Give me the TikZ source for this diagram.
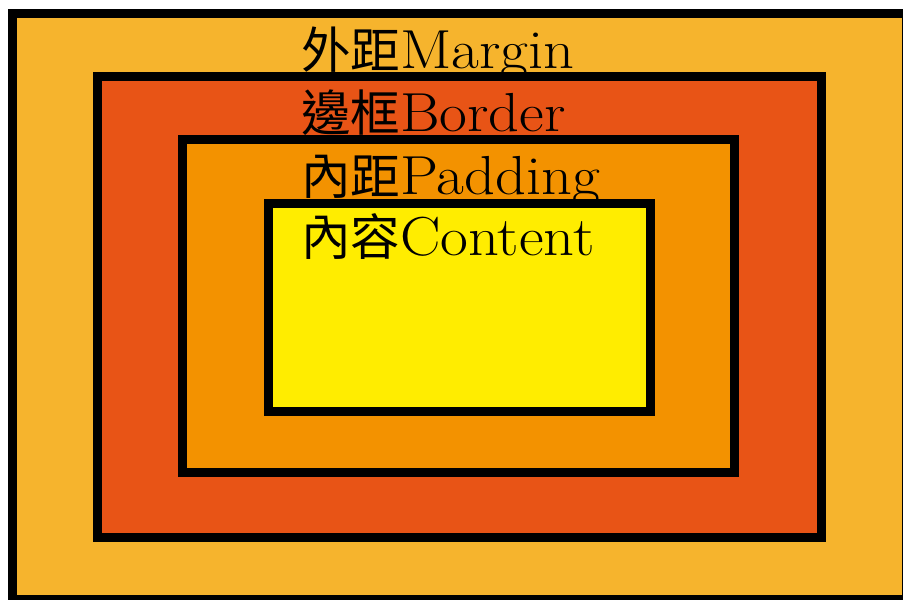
\documentclass[tikz,border=0pt]{standalone}
\usepackage{fontspec}
\setmainfont[FakeStretch=1.1]{Latin Modern Roman}
\newfontfamily\cjk[Scale=0.9]{Noto Sans CJK TC}
\usepackage{tikz}
\usetikzlibrary{positioning}
\usepackage{xcolor}

\definecolor{margincol}{RGB}{246,180,45}
\definecolor{bordercol}{RGB}{232,84,22}
\definecolor{paddingcol}{RGB}{243,146,0}
\definecolor{contentcol}{RGB}{255,237,0}

\begin{document}
\begin{tikzpicture}[x=1pt,y=-1pt]
  \tikzstyle{layer}=[draw=black,line width=9pt]
  \tikzstyle{tag}=[anchor=base west,inner sep=0pt,font=\fontsize{55}{60}\selectfont]

  \useasboundingbox (0,0) rectangle (903,600);
  \fill[white] (0,0) rectangle (903,600);

  % nested boxes, outside in
  \draw[layer,fill=margincol]  (12.5,13.5) rectangle (906.5,599.5);
  \draw[layer,fill=bordercol]  (97.5,76.5) rectangle (821,537.5);
  \draw[layer,fill=paddingcol] (182.5,139) rectangle (734.5,472.5);
  \draw[layer,fill=contentcol] (268,203) rectangle (650,411);

  \node[tag] (margin)  at (301,68)  {{\cjk 外距}Margin};
  \node[tag] (border)  at (301,131) {{\cjk 邊框}Border};
  \node[tag] (padding) at (301,194) {{\cjk 內距}Padding};
  \node[tag] (content) at (301,255) {{\cjk 內容}Content};
\end{tikzpicture}
\end{document}
